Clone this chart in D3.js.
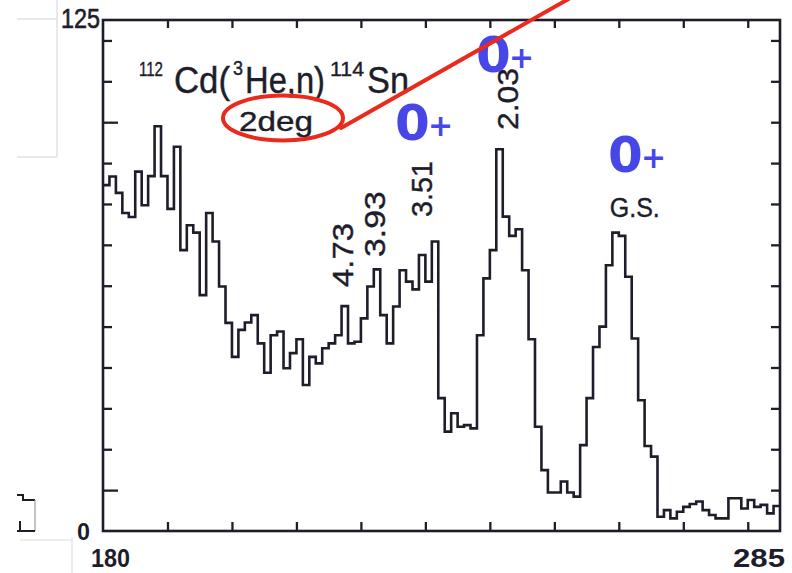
<!DOCTYPE html>
<html>
<head>
<meta charset="utf-8">
<script src="https://cdn.jsdelivr.net/npm/d3@7"></script>
<style>
  html, body { margin: 0; padding: 0; background: #ffffff; }
  svg { display: block; }
</style>
</head>
<body>
<svg id="chart" width="792" height="573"></svg>
<script>
// Neutron time-of-flight spectrum, 112Cd(3He,n)114Sn at 2 degrees.
// One count value per channel, channels 180 .. 284.
const counts = [
  // 180 - 203
  84.6, 86.7, 82.7, 77.8, 76.8, 87.9, 79.7, 86.8, 99, 86.8, 78.8, 94,
  68.7, 74.8, 73, 57.7, 77.8, 70.8, 59.8, 50.9, 42.6, 49.2, 51, 52.8,
  // 204 - 231
  45.9, 38.7, 47.9, 48.8, 39.8, 43.5, 46.9, 35.7, 42.6, 41, 44.7, 45.9,
  47.9, 55, 45.9, 46.3, 52, 59.8, 64, 52.8, 45.9, 54.9, 63.8, 61,
  59.1, 67.5, 61, 70.8,
  // 232 - 253
  32.5, 24.3, 28.8, 25.5, 25.9, 25.1, 47.9, 61.8, 68.7, 93.4, 76.9, 72.2,
  73.8, 63.8, 46.9, 25.5, 14.9, 9.4, 9.4, 12.1, 9.4, 8.4,
  // 254 - 265
  21, 32.5, 45, 50, 65, 73, 72.2, 62.2, 47.1, 32, 20.8, 18.2,
  // 266 - 284
  3.5, 5.1, 3.1, 4.7, 5.9, 6.6, 7.2, 5.1, 3.9, 3.1, 3.1, 8, 8, 5.5,
  7.6, 5.9, 6.4, 4.3, 6.1
];

const channelDomain = [180, 285];
const countDomain = [0, 125];
const xTickValues = [190, 200, 210, 220, 230, 240, 250, 260, 270, 280];
const yTickValues = [10, 20, 30, 40, 50, 60, 70, 80, 90, 100, 110, 120];
const yLongTicks = [10, 100];
const xEndLabels = ["180", "285"];
const yEndLabels = ["0", "125"];

// Excitation energies (MeV) of the populated 114Sn states, with label anchors
const levelLabels = ["4.73", "3.93", "3.51", "2.03"];
const levelAnchorChannel = [218.8, 223.7, 231.0, 244.4];
const levelAnchorCount = [59.7, 67.0, 76.8, 98.1];
const levelLabelLength = [64, 66, 56, 62];

const ink = "#1d1d2b";
const blue = "#4746e6";
const red = "#ea2a1c";
const font = "'Liberation Sans', Arial, Helvetica, sans-serif";

const svg = d3.select("#chart");

const x = d3.scaleLinear().domain(channelDomain).range([103, 780]);
const y = d3.scaleLinear().domain(countDomain).range([531, 20]);

// faint marks left over along the page edge
const faint = svg.append("g");
faint.append("path").attr("d", "M17,19 H57 M57,0 V157 M17,157 H57")
  .attr("fill", "none").attr("stroke", "#e2e2e6").attr("stroke-width", 1.5);
faint.append("path").attr("d", "M20,540 H72 M72,537 V573")
  .attr("fill", "none").attr("stroke", "#e6e8ec").attr("stroke-width", 1.5);
faint.append("path").attr("d", "M17,495 H23 V500 H35")
  .attr("fill", "none").attr("stroke", ink).attr("stroke-width", 2);
faint.append("path").attr("d", "M35,500 V531")
  .attr("fill", "none").attr("stroke", "#9a9aa4").attr("stroke-width", 1.2);
faint.append("path").attr("d", "M17,531 H35 M20,531 V521")
  .attr("fill", "none").attr("stroke", ink).attr("stroke-width", 2);

// histogram drawn as a step line, one step per channel
const steps = counts.map((c, i) => [channelDomain[0] + i, c]);
steps.push([channelDomain[0] + counts.length, counts[counts.length - 1]]);
const stepLine = d3.line()
  .x(d => x(d[0]))
  .y(d => y(d[1]))
  .curve(d3.curveStepAfter);

svg.append("path")
  .datum(steps)
  .attr("d", stepLine)
  .attr("fill", "none")
  .attr("stroke", ink)
  .attr("stroke-width", 2.6)
  .attr("stroke-linejoin", "miter");

// frame with inward ticks on all four sides
function styleAxis(g) {
  g.select(".domain").remove();
  g.selectAll(".tick line").attr("stroke", ink).attr("stroke-width", 2.3);
  g.selectAll(".tick text").remove();
}

svg.append("g")
  .attr("transform", `translate(${x(channelDomain[0])},0)`)
  .call(d3.axisLeft(y).tickValues(yTickValues).tickSize(-9).tickFormat(""))
  .call(styleAxis)
  .selectAll(".tick line")
  .attr("x2", d => yLongTicks.includes(d) ? 15 : 9);

svg.append("g")
  .attr("transform", `translate(${x(channelDomain[1])},0)`)
  .call(d3.axisRight(y).tickValues(yTickValues).tickSize(-9).tickFormat(""))
  .call(styleAxis);

svg.append("g")
  .attr("transform", `translate(0,${y(countDomain[1])})`)
  .call(d3.axisTop(x).tickValues(xTickValues).tickSize(-8).tickFormat(""))
  .call(styleAxis);

svg.append("g")
  .attr("transform", `translate(0,${y(countDomain[0])})`)
  .call(d3.axisBottom(x).tickValues(xTickValues).tickSize(-9).tickFormat(""))
  .call(styleAxis);

svg.append("rect")
  .attr("x", x(channelDomain[0]))
  .attr("y", y(countDomain[1]))
  .attr("width", x(channelDomain[1]) - x(channelDomain[0]))
  .attr("height", y(countDomain[0]) - y(countDomain[1]))
  .attr("fill", "none")
  .attr("stroke", ink)
  .attr("stroke-width", 2.6);

// plain text helper with fixed run length
function label(txt, px, py, size, len, weight) {
  return svg.append("text")
    .attr("x", px).attr("y", py)
    .attr("font-family", font)
    .attr("font-size", size)
    .attr("font-weight", weight || "normal")
    .attr("fill", ink)
    .attr("stroke", ink)
    .attr("stroke-width", weight === "bold" ? 0 : 0.4)
    .attr("textLength", len)
    .attr("lengthAdjust", "spacingAndGlyphs")
    .text(txt);
}

// axis end labels
label(yEndLabels[1], x(channelDomain[0]) - 42, y(countDomain[1]) + 8, 27, 39)
  .attr("stroke-width", 0.6);
label(yEndLabels[0], x(channelDomain[0]) - 26, y(countDomain[0]) + 9, 24, 13, "bold");
label(xEndLabels[0], x(channelDomain[0]) - 12, y(countDomain[0]) + 36, 26, 39, "bold");
label(xEndLabels[1], x(channelDomain[1]) - 47, y(countDomain[0]) + 36, 25, 52, "bold");

// reaction title
label("112", 139, 76, 20, 24);
label("Cd(", 174, 93, 36, 56);
label("3", 233, 75, 20, 10);
label("He,n)", 245, 93, 36, 80);
label("114", 330, 76, 20, 34);
label("Sn", 367, 93, 36, 42);
label("2deg", 239, 131, 27, 74);

// level energies, rotated to read upwards
levelLabels.forEach((t, i) => {
  const px = x(levelAnchorChannel[i]);
  const py = y(levelAnchorCount[i]);
  svg.append("text")
    .attr("x", px).attr("y", py)
    .attr("transform", `rotate(-90,${px},${py})`)
    .attr("font-family", font)
    .attr("font-size", 30)
    .attr("fill", ink)
    .attr("stroke", ink)
    .attr("stroke-width", 0.4)
    .attr("textLength", levelLabelLength[i])
    .attr("lengthAdjust", "spacingAndGlyphs")
    .text(t);
});
label("G.S.", x(258.6), y(76.8), 27, 50);

// 0+ spin-parity marks
const spinMarks = [[395, 140], [476, 72], [608, 172]];
spinMarks.forEach(([px, py]) => {
  svg.append("text").attr("x", px).attr("y", py)
    .attr("font-family", "'DejaVu Sans', Verdana, sans-serif")
    .attr("font-weight", "bold").attr("font-size", 50)
    .attr("fill", blue).text("0");
  svg.append("text").attr("x", px + 33).attr("y", py - 4)
    .attr("font-family", "'DejaVu Sans', Verdana, sans-serif")
    .attr("font-weight", "bold").attr("font-size", 30)
    .attr("fill", blue).text("+");
});

// red callout around the angle
svg.append("ellipse")
  .attr("cx", 283).attr("cy", 118).attr("rx", 60).attr("ry", 22.5)
  .attr("fill", "none").attr("stroke", red).attr("stroke-width", 4);
svg.append("line")
  .attr("x1", 341).attr("y1", 128).attr("x2", 572).attr("y2", -3)
  .attr("stroke", red).attr("stroke-width", 4).attr("stroke-linecap", "round");
</script>
</body>
</html>
